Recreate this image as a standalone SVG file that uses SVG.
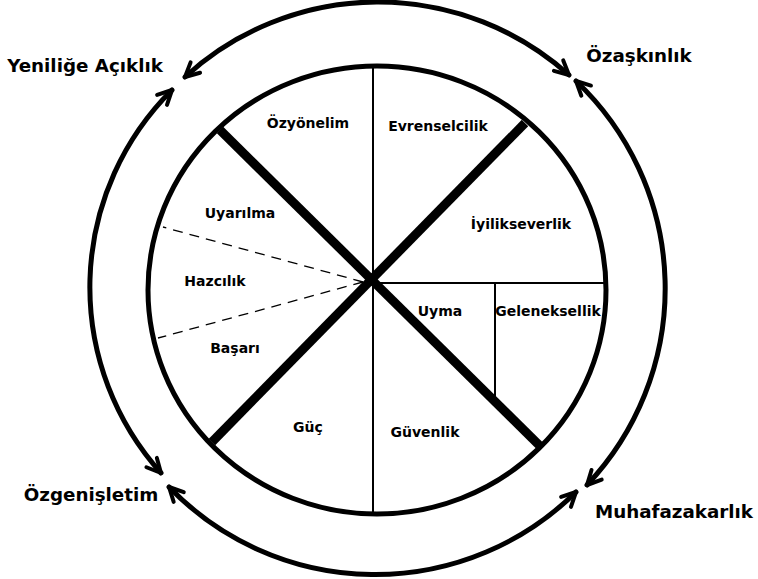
<svg xmlns="http://www.w3.org/2000/svg" width="758" height="579" viewBox="0 0 758 579">
<style>
.lbl{font-family:"DejaVu Sans","Liberation Sans",sans-serif;font-weight:bold;fill:#000;text-anchor:middle}
.outer{font-size:18.3px}
.inner{font-size:14px}
.arc{fill:none;stroke:#000;stroke-width:5;stroke-linecap:round;marker-start:url(#ah);marker-end:url(#ah)}
.thin{stroke:#000;stroke-width:2;fill:none}
.thick{stroke:#000;stroke-width:9;fill:none}
.dash{stroke:#000;stroke-width:1.3;stroke-dasharray:10 7;fill:none}
</style>
<defs>
<marker id="ah" viewBox="-18 -12 22 24" refX="0" refY="0" markerWidth="22" markerHeight="24" markerUnits="userSpaceOnUse" orient="auto-start-reverse">
<path d="M-14,-7 L0,0 L-14,7" fill="none" stroke="#000" stroke-width="4" stroke-linecap="round" stroke-linejoin="round"/>
</marker>
</defs>
<rect width="758" height="579" fill="#fff"/>
<g id="connectors">
<path class="arc" d="M185,77 A286,286 0 0 1 569,75"/>
<path class="arc" d="M576,81 A286,286 0 0 1 587,485"/>
<path class="arc" d="M576,492 A286,286 0 0 1 169,487"/>
<path class="arc" d="M161,473 A278,278 0 0 1 172,90"/>
</g>
<g id="wheel">
<ellipse cx="377" cy="290" rx="229" ry="224" fill="none" stroke="#000" stroke-width="5"/>
<line class="thin" x1="373" y1="66" x2="373" y2="514"/>
<line class="thin" x1="373" y1="283" x2="606" y2="283"/>
<line class="thin" x1="495" y1="283" x2="495" y2="399"/>
<line class="dash" x1="363" y1="282" x2="163" y2="227"/>
<line class="dash" x1="363" y1="282" x2="158" y2="338"/>
<line class="thick" x1="220" y1="130" x2="542" y2="448"/>
<line class="thick" x1="525" y1="123" x2="212" y2="442"/>
</g>
<g id="ozyonelim"><text class="lbl inner" x="308" y="128">Özyönelim</text></g>
<g id="evrenselcilik"><text class="lbl inner" x="438" y="131">Evrenselcilik</text></g>
<g id="iyilikseverlik"><text class="lbl inner" x="521" y="229">İyilikseverlik</text></g>
<g id="uyarilma"><text class="lbl inner" x="240" y="218">Uyarılma</text></g>
<g id="hazcilik"><text class="lbl inner" x="215" y="286">Hazcılık</text></g>
<g id="basari"><text class="lbl inner" x="235" y="353">Başarı</text></g>
<g id="guc"><text class="lbl inner" x="308" y="432">Güç</text></g>
<g id="uyma"><text class="lbl inner" x="440" y="316">Uyma</text></g>
<g id="geleneksellik"><text class="lbl inner" x="548" y="316">Geleneksellik</text></g>
<g id="guvenlik"><text class="lbl inner" x="425" y="437">Güvenlik</text></g>
<g id="yenilige-aciklik"><text class="lbl outer" x="85" y="72">Yeniliğe Açıklık</text></g>
<g id="ozaskinlik"><text class="lbl outer" x="639" y="62">Özaşkınlık</text></g>
<g id="ozgenisletim"><text class="lbl outer" x="91" y="501">Özgenişletim</text></g>
<g id="muhafazakarlik"><text class="lbl outer" x="674" y="518">Muhafazakarlık</text></g>
</svg>
